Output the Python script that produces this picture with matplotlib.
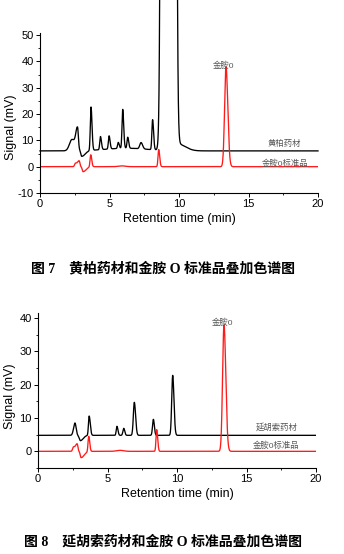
import numpy as np
import matplotlib
matplotlib.use("Agg")
import matplotlib.pyplot as plt
from matplotlib.ticker import MultipleLocator

plt.rcParams['font.family'] = ['Liberation Sans', 'Noto Sans CJK SC']
plt.rcParams['axes.unicode_minus'] = False

# peak tables: retention time (min), height (mV), left / right width (min)
# 金胺O standard (same injection overlaid in both figures)
stdBaseline = 0.0
stdTimes = [2.55, 2.82, 3.1, 3.65, 5.9, 8.54, 13.38]
stdHeights = [1.3, 2.05, -1.9, 4.6, 0.3, 6.5, 38.0]
stdLeft = [0.06, 0.10, 0.06, 0.05, 0.25, 0.05, 0.10]
stdRight = [0.14, 0.05, 0.22, 0.07, 0.25, 0.07, 0.13]

# 黄柏药材 (Fig. 7)
hbBaseline = 6.0
hbTimes = [2.3, 2.7, 3.0, 3.67, 4.35, 4.97, 5.63, 5.95, 6.31, 7.27, 8.1, 9.25, 9.9, 6.2]
hbHeights = [4.3, 8.2, -2.2, 16.5, 5.0, 5.0, 2.3, 14.8, 4.2, 2.4, 11.4, 34000, 2.6, 1.0]
hbLeft = [0.18, 0.12, 0.06, 0.05, 0.05, 0.05, 0.05, 0.05, 0.05, 0.09, 0.05, 0.18, 0.05, 1.5]
hbRight = [0.22, 0.06, 0.25, 0.07, 0.07, 0.07, 0.07, 0.07, 0.07, 0.11, 0.07, 0.18, 0.55, 1.5]

# 延胡索药材 (Fig. 8)
yhsBaseline = 4.8
yhsTimes = [2.66, 3.05, 3.68, 5.68, 6.17, 6.93, 8.3, 9.69]
yhsHeights = [3.7, -1.6, 5.8, 2.7, 2.1, 9.9, 4.8, 18.0]
yhsLeft = [0.10, 0.08, 0.05, 0.05, 0.06, 0.07, 0.06, 0.07]
yhsRight = [0.08, 0.20, 0.08, 0.07, 0.07, 0.09, 0.07, 0.09]

t = np.linspace(0, 20, 4001)


def trace(baseline, times, heights, left, right):
    y = np.full_like(t, baseline)
    for c, h, wl, wr in zip(times, heights, left, right):
        w = np.where(t < c, wl, wr)
        y += h * np.exp(-0.5 * ((t - c) / w) ** 2)
    return y


def styleAxes(ax, ylim, yminor):
    ax.set_xlim(0, 20)
    ax.set_ylim(*ylim)
    for s in ['top', 'right']:
        ax.spines[s].set_visible(False)
    for s in ['left', 'bottom']:
        ax.spines[s].set_linewidth(0.8)
    ax.xaxis.set_major_locator(MultipleLocator(5))
    ax.xaxis.set_minor_locator(MultipleLocator(2.5))
    ax.yaxis.set_major_locator(MultipleLocator(10))
    ax.yaxis.set_minor_locator(MultipleLocator(yminor))
    ax.tick_params(which='major', direction='out', length=3, width=0.7, labelsize=8, pad=1.5)
    ax.tick_params(which='minor', direction='out', length=1.6, width=0.6)
    ax.set_xlabel('Retention time (min)', fontsize=9)
    ax.set_ylabel('Signal (mV)', fontsize=9)


fig = plt.figure(figsize=(3.44, 5.54), dpi=100)
lblColor = '#555555'
capFont = ['Liberation Serif', 'Noto Sans CJK SC']
lineW = 0.95

# Fig. 7
ax1 = fig.add_axes([40 / 344, 361 / 554, 278 / 344, 160 / 554])
ax1.plot(t, trace(hbBaseline, hbTimes, hbHeights, hbLeft, hbRight), color='black', lw=lineW, clip_on=False)
ax1.plot(t, trace(stdBaseline, stdTimes, stdHeights, stdLeft, stdRight), color='#ff1a1a', lw=lineW)
styleAxes(ax1, (-10, 50.8), 5)
ax1.xaxis.set_label_coords(0.5, -0.125)
ax1.yaxis.set_label_coords(-0.083, 0.41)
ax1.text(13.17, 38.3, '金胺0', fontsize=6, color=lblColor, ha='center', va='center')
ax1.text(17.6, 8.7, '黄柏药材', fontsize=6, color=lblColor, ha='center', va='center')
ax1.text(17.6, 1.1, '金胺0标准品', fontsize=6, color=lblColor, ha='center', va='center')
fig.text(163 / 344, 1 - 268 / 554, '图 7　黄柏药材和金胺 O 标准品叠加色谱图',
         family=capFont, fontweight='bold', fontsize=10, ha='center', va='center')

# Fig. 8
ax2 = fig.add_axes([38 / 344, 86 / 554, 278 / 344, 155 / 554])
ax2.plot(t, trace(yhsBaseline, yhsTimes, yhsHeights, yhsLeft, yhsRight), color='black', lw=lineW)
ax2.plot(t, trace(stdBaseline, stdTimes, stdHeights, stdLeft, stdRight), color='#ff1a1a', lw=lineW)
styleAxes(ax2, (-5, 41.5), 5)
ax2.xaxis.set_label_coords(0.5, -0.13)
ax2.yaxis.set_label_coords(-0.078, 0.46)
ax2.text(13.3, 38.5, '金胺0', fontsize=6, color=lblColor, ha='center', va='center')
ax2.text(17.2, 7.2, '延胡索药材', fontsize=6, color=lblColor, ha='center', va='center')
ax2.text(17.1, 1.8, '金胺0标准品', fontsize=6, color=lblColor, ha='center', va='center')
fig.text(163 / 344, 1 - 542 / 554, '图 8　延胡索药材和金胺 O 标准品叠加色谱图',
         family=capFont, fontweight='bold', fontsize=10, ha='center', va='center')

fig.savefig('out.png', dpi=100)
